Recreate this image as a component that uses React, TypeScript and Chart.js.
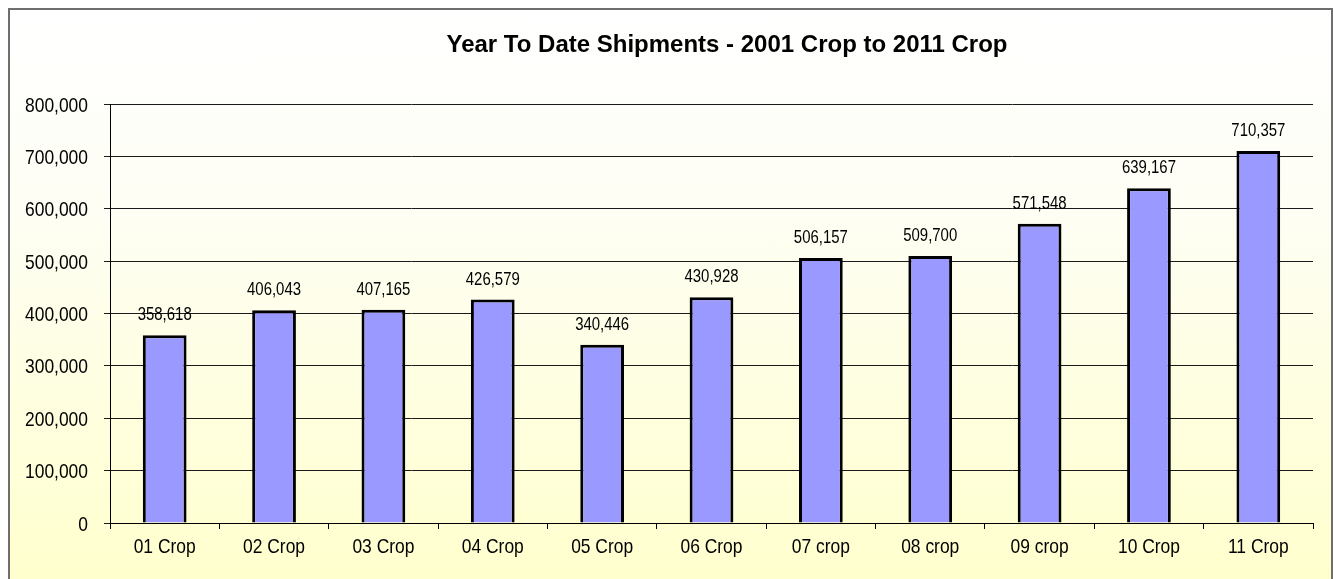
import React, { useEffect, useRef } from 'react';
import { Chart, registerables } from 'chart.js';

Chart.register(...registerables);

const categories = ['01 Crop', '02 Crop', '03 Crop', '04 Crop', '05 Crop', '06 Crop', '07 crop', '08 crop', '09 crop', '10 Crop', '11 Crop'];
const shipments = [358618, 406043, 407165, 426579, 340446, 430928, 506157, 509700, 571548, 639167, 710357];
const yTickValues = [0, 100000, 200000, 300000, 400000, 500000, 600000, 700000, 800000];
const chartTitle = 'Year To Date Shipments - 2001 Crop to 2011 Crop';

const SANS = '"Liberation Sans", Arial, sans-serif';
const NARROW_SCALE = 0.83;

const fmt = (v: number) => v.toLocaleString('en-US');

function narrowText(ctx: any, text: string, x: number, y: number, align: string, size: number) {
  ctx.save();
  ctx.font = `${size}px ${SANS}`;
  ctx.fillStyle = '#000';
  ctx.textAlign = align;
  ctx.textBaseline = 'alphabetic';
  ctx.translate(x, y);
  ctx.scale(NARROW_SCALE, 1);
  ctx.fillText(text, 0, 0);
  ctx.restore();
}

const textPlugin = {
  id: 'narrowTexts',
  afterDraw(chart: any) {
    const ctx = chart.ctx;
    const area = chart.chartArea;
    // value labels
    const meta = chart.getDatasetMeta(0);
    meta.data.forEach((bar: any, i: number) => {
      narrowText(ctx, fmt(shipments[i]), bar.x, bar.y - 15, 'center', 18);
    });
    // y tick labels
    const ys = chart.scales.y;
    yTickValues.forEach((v) => {
      narrowText(ctx, fmt(v), area.left - 22, ys.getPixelForValue(v) + 7.5, 'right', 21);
    });
    // x tick labels
    const xs = chart.scales.x;
    categories.forEach((c, i) => {
      narrowText(ctx, c, xs.getPixelForValue(i), area.bottom + 30, 'center', 21);
    });
    // title
    ctx.save();
    ctx.font = `bold 24px ${SANS}`;
    ctx.fillStyle = '#000';
    ctx.textAlign = 'center';
    ctx.textBaseline = 'alphabetic';
    ctx.fillText(chartTitle, 717, 42);
    ctx.restore();
  },
};

export default function App() {
  const ref = useRef<HTMLCanvasElement | null>(null);
  useEffect(() => {
    if (!ref.current) return;
    const chart = new Chart(ref.current, {
      type: 'bar',
      data: {
        labels: categories,
        datasets: [
          {
            data: shipments,
            backgroundColor: '#9999FF',
            borderColor: '#000000',
            borderWidth: 3,
            barPercentage: 0.4,
            categoryPercentage: 1,
          },
        ],
      },
      options: {
        responsive: false,
        animation: false,
        layout: { padding: { top: 94, right: 18, left: 0, bottom: 0 } },
        plugins: { legend: { display: false }, title: { display: false }, tooltip: { enabled: false } },
        scales: {
          x: {
            grid: { offset: true, drawOnChartArea: false, tickLength: 6, color: '#000', lineWidth: 1 },
            border: { color: '#000', width: 1 },
            ticks: { color: 'rgba(0,0,0,0)', font: { family: SANS, size: 20 }, padding: 8, maxRotation: 0 },
            afterFit: (s: any) => { s.height = 56; },
          },
          y: {
            min: 0,
            max: 800000,
            grid: { color: '#1a1a1a', lineWidth: 1, tickLength: 6 },
            border: { color: '#000', width: 1 },
            ticks: { stepSize: 100000, color: 'rgba(0,0,0,0)', font: { family: SANS, size: 20 }, padding: 16, callback: (v: any) => fmt(Number(v)) },
            afterFit: (s: any) => { s.width = 100; },
          },
        },
      },
      plugins: [textPlugin],
    });
    return () => chart.destroy();
  }, []);

  return (
    <div
      style={{
        position: 'fixed',
        left: 8,
        top: 8,
        width: 1321,
        height: 580,
        borderLeft: '2px solid #6e6e6e',
        borderTop: '2px solid #6e6e6e',
        borderRight: '2px solid #6e6e6e',
        background: 'linear-gradient(to bottom, #ffffff 0%, #fefef4 35%, #ffffcc 100%)',
      }}
    >
      <canvas ref={ref} width={1321} height={569} style={{ display: 'block', width: 1321, height: 569 }} />
    </div>
  );
}
